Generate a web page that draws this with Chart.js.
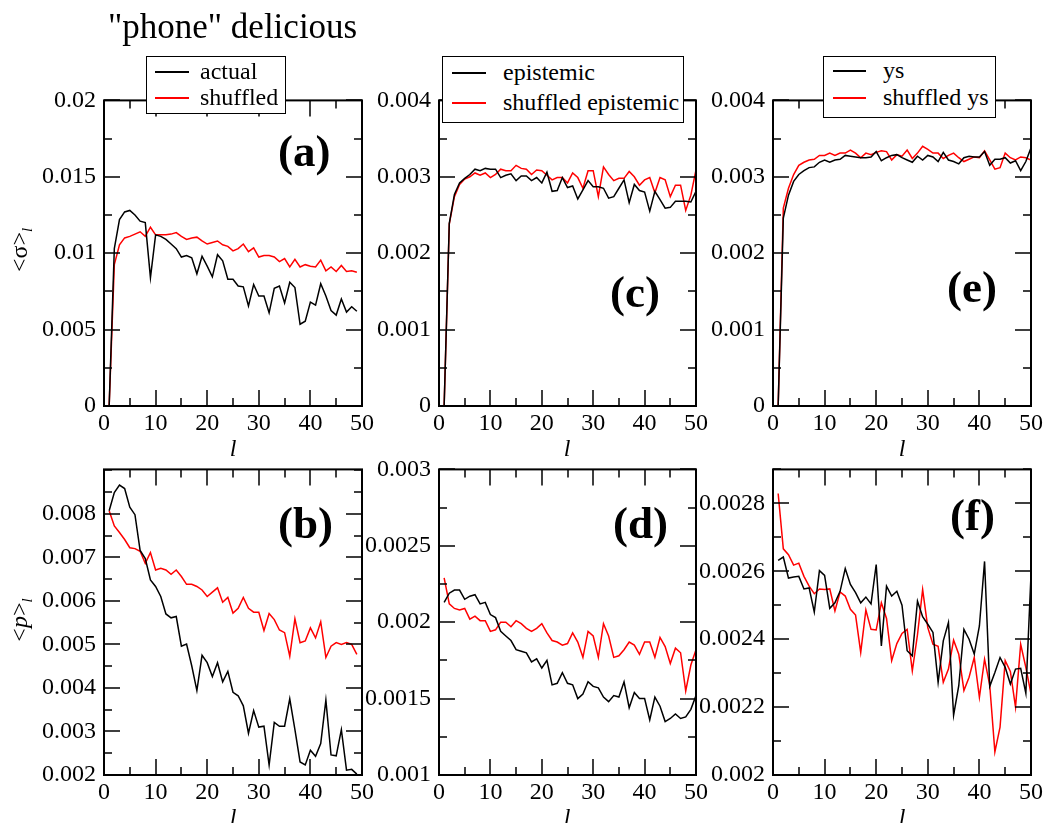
<!DOCTYPE html>
<html>
<head>
<meta charset="utf-8">
<script src="https://cdn.jsdelivr.net/npm/chart.js@4.4.0/dist/chart.umd.min.js"></script>
<style>
  html, body { margin: 0; padding: 0; background: #fff; }
  body { position: relative; width: 1044px; height: 823px; overflow: hidden;
         font-family: "Liberation Serif", "Times New Roman", serif; color: #000; }
  canvas { position: absolute; }
  .txt { position: absolute; white-space: nowrap; line-height: 1; z-index: 3; }
  .legend { position: absolute; box-sizing: border-box; border: 1.5px solid #000; background: #fff; z-index: 2; }
  .sample { position: absolute; height: 1.5px; z-index: 3; }
  .panel { font-weight: bold; font-size: 45px; }
  .ytitle sub { font-size: 15px; vertical-align: -5px; line-height: 0; }
</style>
</head>
<body>
<div class="txt" style="left:108px; top:9px; font-size:35px;">"phone" delicious</div>

<script>
// l = 1..50
const ls = [1,2,3,4,5,6,7,8,9,10,11,12,13,14,15,16,17,18,19,20,21,22,23,24,25,
            26,27,28,29,30,31,32,33,34,35,36,37,38,39,40,41,42,43,44,45,46,47,48,49,50];

// (a) <sigma>_l, actual vs shuffled (l = 1..49)
const sigmaActual = [0,.0103,.0122,.0127,.0128,.0125,.0121,.0120,.0084,.0112,
  .0111,.0109,.0106,.0103,.00975,.00985,.0097,.00865,.0098,.00915,
  .00845,.0099,.0095,.0083,.0083,.00785,.0078,.00655,.00795,.0072,
  .0072,.0061,.0077,.00785,.00675,.0081,.00775,.00535,.00555,.0068,
  .0066,.0080,.0072,.00625,.00595,.0070,.00615,.0065,.0062];
const sigmaShuffled = [0,.00925,.01055,.0110,.0111,.01125,.0114,.0111,.0117,.0112,
  .0112,.0112,.01125,.01135,.0111,.0109,.0110,.01105,.0108,.0106,
  .0107,.0108,.01055,.01045,.01015,.0103,.0106,.0101,.01035,.00975,
  .00985,.00985,.00975,.00945,.00965,.0091,.0096,.0091,.00925,.00915,
  .0091,.00955,.00885,.0091,.0088,.0092,.0088,.00885,.00875];

// (b) <p>_l, actual vs shuffled (l = 1..49)
const pActual = [.00807,.00849,.00866,.00858,.00815,.00798,.00716,.00697,.00648,.00633,
  .0061,.0057,.00561,.00564,.00496,.00501,.00451,.00394,.00475,.00458,
  .00426,.00458,.00414,.00438,.0039,.00382,.00359,.00296,.00348,.0031,
  .00312,.00223,.00321,.00312,.00312,.00375,.00304,.0023,.00223,.00257,
  .00243,.00272,.00372,.00246,.00244,.00304,.00211,.00213,.00202];
const pShuffled = [.00807,.00772,.00757,.00741,.00722,.0072,.00714,.00686,.00711,.00671,
  .00675,.00671,.00661,.00671,.00656,.00638,.00638,.00633,.00625,.0061,
  .0062,.0063,.00597,.00608,.00572,.00583,.00608,.00583,.00574,.00574,
  .00532,.00571,.00557,.00533,.00527,.00473,.00559,.00504,.00508,.00538,
  .00515,.00552,.0047,.00496,.00504,.005,.00504,.005,.00477];

// (c) <sigma>_l, epistemic
const sigmaEpistemic = [0,.00239,.00277,.00292,.00298,.00303,.0031,.00308,.00311,.0031,
  .0031,.00299,.00302,.00304,.00295,.00301,.00301,.00295,.00299,.00292,
  .00306,.00281,.00282,.00299,.00286,.00288,.00271,.00283,.00295,.00287,
  .00287,.00285,.00272,.00274,.00285,.00296,.00266,.0029,.00282,.0028,
  .00255,.00281,.0027,.00259,.0026,.00268,.00268,.00268,.00267,.00281];
const sigmaShuffledEpistemic = [0,.00238,.00274,.0029,.00297,.003,.00305,.00302,.00305,.00299,
  .00303,.0031,.00308,.00308,.00315,.00311,.0031,.00303,.00309,.00308,
  .00302,.00296,.00299,.00299,.00292,.00305,.00299,.00285,.00308,.00308,
  .00274,.00313,.00303,.00295,.00298,.00298,.00307,.003,.00289,.00296,
  .00299,.00279,.00299,.00296,.00274,.00289,.00289,.00256,.00276,.00309];

// (d) <p>_l, epistemic
const pEpistemic = [.00213,.00219,.00221,.00221,.00215,.00217,.00218,.00212,.00213,.00205,
  .00203,.00194,.00191,.00188,.00182,.00181,.0018,.00174,.00176,.0017,
  .00175,.00159,.0016,.00167,.0016,.00159,.0015,.00153,.00161,.00158,
  .00157,.00151,.00148,.00152,.00151,.00161,.00144,.00154,.0015,.0015,
  .00136,.00151,.00145,.00135,.00137,.0014,.00137,.00138,.00143,.00152];
const pShuffledEpistemic = [.00229,.00212,.00209,.00208,.00209,.00202,.00204,.00201,.00201,.00194,
  .00195,.002,.002,.00197,.00201,.00199,.00196,.00194,.00196,.00199,
  .00193,.00188,.00187,.00185,.00186,.00193,.00187,.00177,.00194,.00191,
  .00177,.00199,.00191,.00177,.00178,.00182,.00187,.00185,.00179,.00187,
  .00187,.00177,.0019,.00184,.00173,.00183,.0018,.00155,.00172,.00182];

// (e) <sigma>_l, ys
const sigmaYs = [0,.00246,.00276,.00294,.00303,.00308,.00312,.00313,.00319,.00322,
  .00319,.00322,.00323,.00328,.00327,.00326,.00325,.00325,.00326,.00333,
  .00321,.00325,.00328,.00329,.00325,.00322,.00319,.00327,.00322,.00328,
  .00326,.0032,.00332,.00322,.0032,.00317,.00325,.00327,.00326,.00326,
  .00333,.00315,.00323,.00323,.00325,.00318,.00321,.00308,.0032,.00338];
const sigmaShuffledYs = [0,.00259,.00285,.00303,.00315,.00319,.00322,.00323,.00328,.00328,
  .00331,.00328,.00331,.00331,.00335,.00331,.00325,.00331,.00329,.00332,
  .00334,.00333,.00322,.00329,.00327,.00335,.00324,.00331,.0034,.00336,
  .00331,.00331,.00324,.00328,.00331,.00325,.0032,.00323,.00326,.00325,
  .00334,.00322,.0031,.00312,.00331,.00325,.00322,.00326,.00325,.00322];

// (f) <p>_l, ys
const pYs = [.002632,.002642,.00258,.002583,.002585,.002548,.002551,.00248,.002602,.002588,
  .002491,.002507,.002541,.002608,.002561,.002537,.002507,.002524,.002504,.00262,
  .00238,.002556,.002527,.002541,.0025,.002366,.002351,.002512,.002466,.002444,
  .00242,.002273,.002395,.002449,.002176,.002263,.002429,.0024,.002356,.002439,
  .002629,.002261,.002302,.002346,.002317,.002268,.002312,.002314,.002241,.00259];
const pShuffledYs = [.002829,.002666,.002649,.002618,.002624,.002585,.002556,.002534,.002548,.002546,
  .002548,.002483,.002539,.002527,.002488,.002471,.002361,.002486,.002429,.002427,
  .002507,.002461,.002337,.002387,.002417,.002429,.002307,.002413,.002546,.002434,
  .002385,.002379,.002273,.002312,.002397,.002356,.002249,.002288,.002346,.002229,
  .002341,.002265,.002068,.002141,.002337,.002305,.0022,.002385,.002317,.002239];

// tick labels
const xTickLabels = ['0', '10', '20', '30', '40', '50'];
const aYTicks = ['0', '0.005', '0.01', '0.015', '0.02'];
const bYTicks = ['0.002', '0.003', '0.004', '0.005', '0.006', '0.007', '0.008'];
const cYTicks = ['0', '0.001', '0.002', '0.003', '0.004'];
const dYTicks = ['0.001', '0.0015', '0.002', '0.0025', '0.003'];
const eYTicks = ['0', '0.001', '0.002', '0.003', '0.004'];
const fYTicks = ['0.002', '0.0022', '0.0024', '0.0026', '0.0028'];

Chart.defaults.font.family = '"Liberation Serif", "Times New Roman", serif';
Chart.defaults.color = '#000';

// xmgrace style frame with inward major/minor ticks on all four sides
const framePlugin = {
  id: 'frame',
  afterDatasetsDraw(chart, args, opts) {
    const ctx = chart.ctx, a = chart.chartArea;
    const xs = chart.scales.x, ys = chart.scales.y;
    ctx.save();
    ctx.strokeStyle = '#000';
    ctx.lineWidth = 1.5;
    function tx(v, len) {
      const p = Math.round(xs.getPixelForValue(v));
      ctx.beginPath();
      ctx.moveTo(p, a.bottom); ctx.lineTo(p, a.bottom - len);
      ctx.moveTo(p, a.top); ctx.lineTo(p, a.top + len);
      ctx.stroke();
    }
    function ty(v, len) {
      const p = Math.round(ys.getPixelForValue(v));
      ctx.beginPath();
      ctx.moveTo(a.left, p); ctx.lineTo(a.left + len, p);
      ctx.moveTo(a.right, p); ctx.lineTo(a.right - len, p);
      ctx.stroke();
    }
    for (let v = xs.min; v <= xs.max + 1e-9; v += 5) tx(v, Math.round(v) % 10 === 0 ? 16 : 8);
    const step = opts.yMinor;
    const n = Math.round((ys.max - ys.min) / step);
    for (let i = 0; i <= n; i++) {
      const v = ys.min + i * step;
      const isMajor = opts.majors.some(m => Math.abs(m - v) < step / 10);
      ty(v, isMajor ? 16 : 8);
    }
    ctx.lineWidth = 2;
    ctx.strokeRect(a.left, a.top, a.right - a.left, a.bottom - a.top);
    ctx.restore();
  }
};

function makePanel(p) {
  const [px, py, pw, ph] = p.rect;
  const w = pw + 120, h = ph + 65;
  const cv = document.createElement('canvas');
  cv.width = w; cv.height = h;
  cv.style.left = (px - 100) + 'px';
  cv.style.top = (py - 20) + 'px';
  cv.style.width = w + 'px';
  cv.style.height = h + 'px';
  document.body.appendChild(cv);

  new Chart(cv, {
    type: 'scatter',
    data: {
      datasets: p.series.map(s => ({
        data: s.values.map((v, i) => ({ x: ls[i], y: v })),
        borderColor: s.color,
        borderWidth: 1.5,
        showLine: true,
        pointRadius: 0,
        tension: 0
      }))
    },
    options: {
      responsive: false,
      animation: false,
      layout: { padding: { left: 0, top: 20, right: 20, bottom: 0 } },
      plugins: {
        legend: { display: false },
        tooltip: { enabled: false },
        frame: { yMinor: p.yMinor, majors: p.yTicks.map(Number) }
      },
      scales: {
        x: {
          type: 'linear', min: 0, max: 50,
          grid: { display: false, drawTicks: false },
          border: { display: false },
          afterBuildTicks: s => { s.ticks = xTickLabels.map(t => ({ value: Number(t) })); },
          afterFit: s => { s.height = 45; },
          ticks: { padding: 3, autoSkip: false, maxRotation: 0, font: { size: 24 },
                   callback: (v, i) => xTickLabels[i] }
        },
        y: {
          type: 'linear', min: p.ymin, max: p.ymax,
          grid: { display: false, drawTicks: false },
          border: { display: false },
          afterBuildTicks: s => { s.ticks = p.yTicks.map(t => ({ value: Number(t) })); },
          afterFit: s => { s.width = 100; },
          ticks: { padding: 8, autoSkip: false, font: { size: 24 },
                   callback: (v, i) => p.yTicks[i] }
        }
      }
    },
    plugins: [framePlugin]
  });
}

const panels = [
  { rect: [104, 98, 258, 308], ymin: 0, ymax: 0.02, yTicks: aYTicks, yMinor: 0.0025,
    series: [{ values: sigmaActual, color: '#000' }, { values: sigmaShuffled, color: '#ff0000' }] },
  { rect: [104, 467, 258, 308], ymin: 0.002, ymax: 0.00902, yTicks: bYTicks, yMinor: 0.0005,
    series: [{ values: pActual, color: '#000' }, { values: pShuffled, color: '#ff0000' }] },
  { rect: [439, 98, 257, 308], ymin: 0, ymax: 0.004, yTicks: cYTicks, yMinor: 0.0005,
    series: [{ values: sigmaEpistemic, color: '#000' }, { values: sigmaShuffledEpistemic, color: '#ff0000' }] },
  { rect: [439, 467, 257, 308], ymin: 0.001, ymax: 0.003, yTicks: dYTicks, yMinor: 0.00025,
    series: [{ values: pEpistemic, color: '#000' }, { values: pShuffledEpistemic, color: '#ff0000' }] },
  { rect: [773, 98, 258, 308], ymin: 0, ymax: 0.004, yTicks: eYTicks, yMinor: 0.0005,
    series: [{ values: sigmaYs, color: '#000' }, { values: sigmaShuffledYs, color: '#ff0000' }] },
  { rect: [773, 467, 258, 308], ymin: 0.002, ymax: 0.0029, yTicks: fYTicks, yMinor: 0.0001,
    series: [{ values: pYs, color: '#000' }, { values: pShuffledYs, color: '#ff0000' }] }
];
panels.forEach(makePanel);

// text overlays: panel letters, axis titles, legends
function addText(html, left, baseline, size, cls, extra) {
  const d = document.createElement('div');
  d.className = 'txt ' + (cls || '');
  d.innerHTML = html;
  d.style.left = left + 'px';
  d.style.top = (baseline - 0.8375 * size) + 'px';
  d.style.fontSize = size + 'px';
  if (extra) Object.assign(d.style, extra);
  document.body.appendChild(d);
  return d;
}

[['(a)', 278, 167], ['(b)', 278, 539], ['(c)', 610, 308],
 ['(d)', 613, 539], ['(e)', 947, 303], ['(f)', 950, 531]].forEach(t => addText(t[0], t[1], t[2], 45, 'panel'));

// x axis titles
[[233, 456], [567, 456], [902, 456], [233, 825], [567, 825], [902, 825]].forEach(t =>
  addText('<i>l</i>', t[0], t[1], 24, '', { transform: 'translateX(-50%)' }));

// y axis titles (rotated)
function addYTitle(html, cx, cy) {
  const d = document.createElement('div');
  d.className = 'txt ytitle';
  d.innerHTML = html;
  d.style.fontSize = '24px';
  d.style.left = cx + 'px';
  d.style.top = cy + 'px';
  d.style.transform = 'translate(-50%,-50%) rotate(-90deg)';
  document.body.appendChild(d);
}
addYTitle('&lt;σ&gt;<sub><i>l</i></sub>', 19, 250);
addYTitle('&lt;<i>p</i>&gt;<sub><i>l</i></sub>', 19, 620);

// legends
function addLegend(box, lineX, rows) {
  const b = document.createElement('div');
  b.className = 'legend';
  b.style.left = box[0] + 'px'; b.style.top = box[1] + 'px';
  b.style.width = (box[2] - box[0]) + 'px'; b.style.height = (box[3] - box[1]) + 'px';
  document.body.appendChild(b);
  rows.forEach(r => {
    const s = document.createElement('div');
    s.className = 'sample';
    s.style.left = lineX[0] + 'px';
    s.style.width = (lineX[1] - lineX[0]) + 'px';
    s.style.top = (r.y - 0.75) + 'px';
    s.style.background = r.color;
    document.body.appendChild(s);
    addText(r.label, lineX[2], r.y + 7, 24);
  });
}
addLegend([146, 56, 286, 114], [155, 189, 200], [
  { label: 'actual', color: '#000', y: 72 },
  { label: 'shuffled', color: '#ff0000', y: 98 }
]);
addLegend([442, 56, 684, 123], [452, 486, 503], [
  { label: 'epistemic', color: '#000', y: 73 },
  { label: 'shuffled epistemic', color: '#ff0000', y: 103 }
]);
addLegend([823, 56, 996, 118], [833, 866, 883], [
  { label: 'ys', color: '#000', y: 71 },
  { label: 'shuffled ys', color: '#ff0000', y: 98 }
]);
</script>
</body>
</html>
